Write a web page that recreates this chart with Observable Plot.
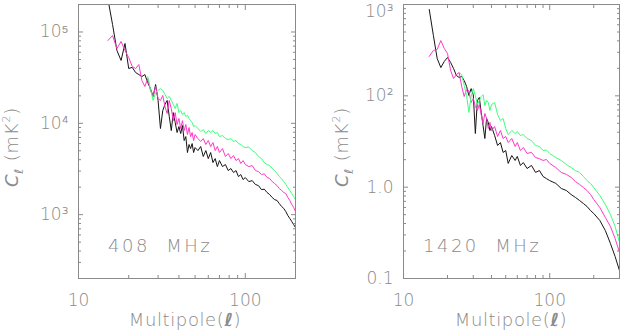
<!DOCTYPE html>
<html>
<head>
<meta charset="utf-8">
<script src="https://cdn.jsdelivr.net/npm/d3@7"></script>
<script src="https://cdn.jsdelivr.net/npm/@observablehq/plot@0.6"></script>
<style>
html, body { margin: 0; padding: 0; background: #fff; }
#wrap { display: flex; width: 620px; height: 331px; overflow: hidden; }
#wrap svg { display: block; flex: none; }
</style>
</head>
<body>
<div id="wrap"></div>
<script>
// ---------- 408 MHz panel ----------
const ell408 = [15,16,17,18,19,20,21,22,23,24,25,26,27,28,29,30,31,32,33,34,35,36,37,38,39,40,
  41,42,43,44,45,46,47,48,49,50,52,54,56,58,60,62,64,66,68,70,73,76,79,82,85,88,91,94,97,100,
  105,110,115,120,125,130,135,140,145,150,155,160,165,170,175,180,185,190,195,200];
const black408 = [2.3e5,1.21e5,6.27e4,4.88e4,7.48e4,3.98e4,4.1e4,3.6e4,3.42e4,3.25e4,3.42e4,2.8e4,2.4e4,1.97e4,2.66e4,1.78e4,
  8.77e3,1.38e4,1.61e4,1.78e4,1.19e4,8.33e3,1.31e4,1.02e4,7.93e3,9.22e3,
  7.73e3,9.46e3,6.48e3,7.16e3,4.79e3,5.86e3,5.29e3,6.0e3,4.79e3,5.43e3,5.03e3,5.57e3,4.33e3,5.03e3,4.11e3,4.79e3,3.72e3,4.11e3,3.36e3,3.91e3,
  3.36e3,3.54e3,3.04e3,3.2e3,2.89e3,3.04e3,2.61e3,2.75e3,2.42e3,2.55e3,
  2.3e3,2.36e3,2.14e3,2.08e3,1.88e3,1.9e3,1.75e3,1.66e3,1.54e3,1.46e3,1.43e3,1.32e3,1.23e3,1.17e3,1.08e3,977,906,840,779,722];
const pink408 = [8.07e4,9.15e4,6.59e4,7.87e4,6.27e4,5.25e4,4.19e4,3.98e4,4.4e4,2.94e4,2.53e4,3.09e4,2.29e4,1.97e4,2.53e4,1.87e4,
  1.78e4,2.02e4,1.53e4,1.28e4,1.78e4,1.45e4,1.07e4,1.31e4,9.7e3,1.13e4,
  8.77e3,1.07e4,8.33e3,9.7e3,7.54e3,8.99e3,7.16e3,7.93e3,6.48e3,7.54e3,6.81e3,6.32e3,6.81e3,5.86e3,6.48e3,5.57e3,6.16e3,5.03e3,5.57e3,4.79e3,
  5.29e3,4.33e3,4.67e3,4.11e3,4.44e3,3.91e3,4.11e3,3.63e3,3.91e3,3.54e3,
  3.36e3,3.45e3,3.04e3,2.96e3,2.75e3,2.8e3,2.55e3,2.49e3,2.3e3,2.19e3,2.08e3,1.93e3,1.84e3,1.75e3,1.7e3,1.54e3,1.43e3,1.29e3,1.2e3,1.08e3];
const ellGreen408 = [26,27,28,29,30,31,32,33,34,35,36,37,38,39,40,
  41,42,43,44,45,46,47,48,49,50,52,54,56,58,60,62,64,66,68,70,73,76,79,82,85,88,91,94,97,100,
  105,110,115,120,125,130,135,140,145,150,155,160,165,170,175,180,185,190,195,200];
const green408 = [3.25e4,2.4e4,1.78e4,2.17e4,2.29e4,2.4e4,2.29e4,2.07e4,1.87e4,1.97e4,1.78e4,1.61e4,1.45e4,1.65e4,1.31e4,
  1.38e4,1.25e4,1.31e4,1.19e4,1.22e4,1.13e4,1.07e4,1.02e4,9.22e3,9.46e3,8.77e3,8.13e3,8.55e3,7.73e3,8.33e3,7.93e3,8.33e3,7.73e3,7.93e3,7.16e3,
  7.35e3,6.81e3,6.64e3,6.81e3,6.32e3,6.48e3,6.0e3,5.86e3,5.57e3,5.43e3,
  5.5e3,5.03e3,4.79e3,4.33e3,4.11e3,3.72e3,3.54e3,3.45e3,3.2e3,3.04e3,2.82e3,2.61e3,2.48e3,2.3e3,2.14e3,1.98e3,1.84e3,1.7e3,1.58e3,1.46e3];

// ---------- 1420 MHz panel ----------
const ell1420 = [15,16,17,18,19,20,21,22,23,24,25,26,27,28,29,30,31,32,33,34,35,36,37,38,39,40,
  42,44,46,48,50,52,55,58,60,63,66,70,75,80,85,90,95,100,
  110,120,130,140,150,160,170,180,190,200,220,240,260,280,300];
const black1420 = [88,46,25.6,20.4,23.8,26.3,23.2,19.9,16.7,15.9,16.3,14.7,12.7,10.1,12.0,10.3,3.87,8.89,9.59,6.57,4.73,3.41,5.65,5.11,4.17,4.61,
  3.68,2.86,3.08,2.4,2.52,1.82,2.22,1.96,2.17,1.73,1.86,1.6,1.73,1.45,1.52,1.31,1.24,1.18,
  1.1,0.967,0.919,0.831,0.771,0.714,0.662,0.614,0.555,0.515,0.432,0.335,0.242,0.174,0.122];
const pink1420 = [27.0,31.4,32.2,40.3,33.0,29.1,18.9,15.5,17.1,18.0,12.7,9.83,11.7,11.4,8.45,9.35,7.64,6.91,8.04,6.25,4.98,6.41,5.65,4.39,5.11,4.17,
  4.61,3.59,4.17,3.41,3.59,3.08,3.41,2.79,3.08,2.52,2.72,2.34,2.4,2.11,2.05,1.96,2.01,1.82,
  1.64,1.45,1.38,1.28,1.15,1.07,0.992,0.919,0.831,0.733,0.599,0.466,0.371,0.274,0.193];
const ellGreen1420 = [24,25,26,27,28,29,30,31,32,33,34,35,36,37,38,39,40,
  42,44,46,48,50,52,55,58,60,63,66,70,75,80,85,90,95,100,
  110,120,130,140,150,160,170,180,190,200,220,240,260,280,300];
const green1420 = [18.0,17.1,13.0,10.1,6.57,9.83,12.0,10.1,8.04,8.89,9.83,10.3,7.84,8.89,8.45,6.91,8.04,
  8.45,6.25,5.37,5.65,4.39,3.77,4.17,3.87,4.07,3.68,3.77,3.41,3.24,2.86,2.79,2.52,2.55,2.34,
  2.11,1.96,1.77,1.64,1.52,1.45,1.31,1.18,1.1,0.992,0.81,0.646,0.502,0.371,0.248];

// ---------- axes ----------
const xTicks = [10, 100];
const xTickText = ["10", "100"];
const yTicks408 = [1e3, 1e4, 1e5];
const yTickText408 = ["10\u00B3", "10\u2074", "10\u2075"];
const yTicks1420 = [0.1, 1, 10, 100];
const yTickText1420 = ["0.1", "1.0", "10\u00B2", "10\u00B3"];
const panelLabels = ["408  MHz", "1420  MHz"];

const INK = "#8a8a8a";
const FONT = "'DejaVu Sans', 'Liberation Sans', sans-serif";
const COLORS = {black: "#151515", pink: "#ff38c8", green: "#3dff7c"};

function minorTicks(domain) {
  const lo = Math.floor(Math.log10(domain[0])), hi = Math.floor(Math.log10(domain[1]));
  const out = [];
  for (let e = lo; e <= hi; e++) {
    for (let k = 2; k <= 9; k++) {
      const v = k * Math.pow(10, e);
      if (v >= domain[0] * 0.999 && v <= domain[1] * 1.001) out.push(v);
    }
  }
  return out;
}

function panel(cfg) {
  const tickOnly = {stroke: INK, fill: "none", label: null};
  const axes = [];
  for (const a of ["bottom", "top"]) {
    axes.push(Plot.axisX(cfg.xTicks, {anchor: a, tickSize: -5, ...tickOnly}));
    axes.push(Plot.axisX(minorTicks(cfg.xDomain), {anchor: a, tickSize: -3, ...tickOnly}));
  }
  for (const a of ["left", "right"]) {
    axes.push(Plot.axisY(cfg.yTicks, {anchor: a, tickSize: -5, ...tickOnly}));
    axes.push(Plot.axisY(minorTicks(cfg.yDomain), {anchor: a, tickSize: -3, ...tickOnly}));
  }
  const lines = cfg.series.map(s => Plot.line(
    s.ell.map((e, i) => ({ell: e, cl: s.cl[i]})),
    {x: "ell", y: "cl", stroke: s.color, strokeWidth: 1, clip: true}
  ));
  const yFmt = d => cfg.yTickText[cfg.yTicks.indexOf(d)];
  const yInner = cfg.yTicks.filter(d => d < cfg.yDomain[1] * 0.999);
  const yEdge = cfg.yTicks.filter(d => d >= cfg.yDomain[1] * 0.999);
  const svg = Plot.plot({
    width: 310, height: 331,
    marginTop: 4, marginBottom: 53, marginLeft: cfg.marginLeft, marginRight: cfg.marginRight,
    style: {fontFamily: FONT, fontSize: "17px", fontWeight: 200, color: INK, background: "white"},
    x: {type: "log", domain: cfg.xDomain},
    y: {type: "log", domain: cfg.yDomain},
    marks: [
      ...lines,
      Plot.frame({stroke: INK}),
      ...axes,
      Plot.axisX(cfg.xTicks, {anchor: "bottom", tickSize: 0, tickPadding: 15, label: null, fill: INK,
        tickFormat: d => cfg.xTickText[cfg.xTicks.indexOf(d)]}),
      Plot.axisY(yInner, {anchor: "left", tickSize: 0, tickPadding: 10, label: null, fill: INK, tickFormat: yFmt}),
      yEdge.length ? Plot.axisY(yEdge, {anchor: "left", tickSize: 0, tickPadding: 10, label: null, fill: INK, tickFormat: yFmt, dy: 7}) : null
    ]
  });
  const s = d3.select(svg);
  // y label
  const yl = s.append("text")
    .attr("transform", `translate(${cfg.yLabelX},147) rotate(-90)`)
    .attr("text-anchor", "middle").attr("fill", INK).attr("font-size", 18).attr("letter-spacing", 0.8);
  yl.append("tspan").attr("font-style", "italic").text("C");
  yl.append("tspan").attr("font-style", "italic").attr("font-size", 12).attr("dy", 5).text("\u2113");
  yl.append("tspan").attr("dy", -5).text(" (mK");
  yl.append("tspan").attr("font-size", 11).attr("dy", -8).text("2");
  yl.append("tspan").attr("dy", 8).text(")");
  // x label
  const xl = s.append("text")
    .attr("x", cfg.xLabelX).attr("y", 326)
    .attr("text-anchor", "middle").attr("fill", INK).attr("font-size", 18).attr("letter-spacing", 0.6);
  xl.append("tspan").text("Multipole(");
  xl.append("tspan").attr("font-style", "italic").attr("font-weight", "bold").text("\u2113");
  xl.append("tspan").text(")");
  // panel label
  s.append("text")
    .attr("x", cfg.labelX).attr("y", 252)
    .attr("text-anchor", "start")
    .attr("fill", INK).attr("font-size", 18).attr("letter-spacing", 2.5)
    .style("white-space", "pre")
    .text(cfg.label);
  return svg;
}

const wrap = document.getElementById("wrap");
wrap.appendChild(panel({
  xDomain: [10, 200], yDomain: [200, 2e5],
  xTicks, xTickText, yTicks: yTicks408, yTickText: yTickText408,
  marginLeft: 78, marginRight: 15,
  yLabelX: 18, xLabelX: 185, labelX: 108, label: panelLabels[0],
  series: [
    {ell: ell408, cl: black408, color: COLORS.black},
    {ell: ell408, cl: pink408, color: COLORS.pink},
    {ell: ellGreen408, cl: green408, color: COLORS.green}
  ]
}));
wrap.appendChild(panel({
  xDomain: [10, 300], yDomain: [0.1, 100],
  xTicks, xTickText, yTicks: yTicks1420, yTickText: yTickText1420,
  marginLeft: 93, marginRight: 1,
  yLabelX: 38, xLabelX: 201, labelX: 113, label: panelLabels[1],
  series: [
    {ell: ell1420, cl: black1420, color: COLORS.black},
    {ell: ell1420, cl: pink1420, color: COLORS.pink},
    {ell: ellGreen1420, cl: green1420, color: COLORS.green}
  ]
}));
</script>
</body>
</html>
